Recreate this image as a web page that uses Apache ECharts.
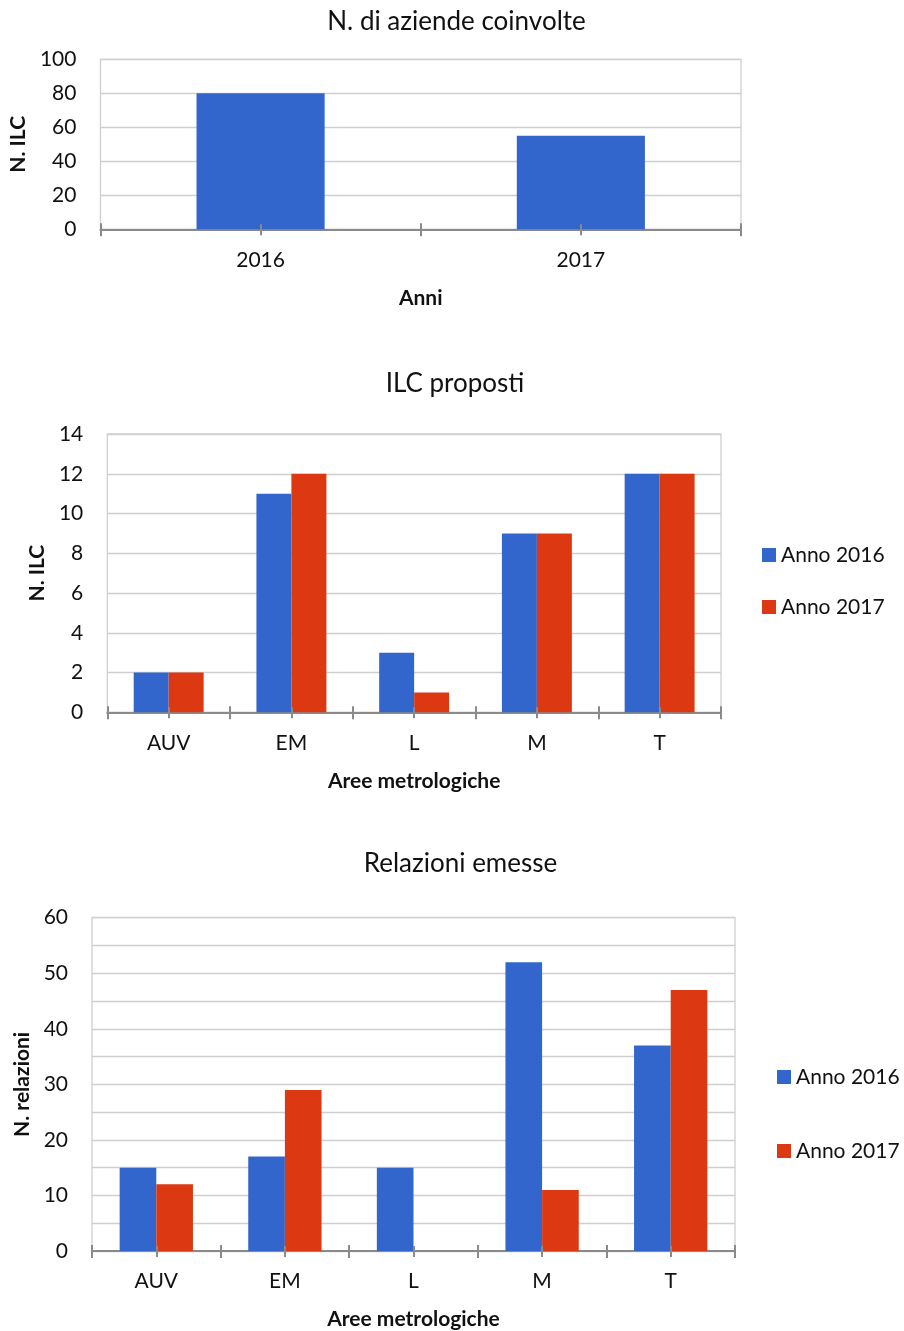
<!DOCTYPE html>
<html>
<head>
<meta charset="utf-8">
<script src="https://cdn.jsdelivr.net/npm/echarts@6/dist/echarts.min.js"></script>
<style>
html,body{margin:0;padding:0;background:#fff;}
#chart{width:904px;height:1331px;}
</style>
</head>
<body>
<div id="chart"></div>
<script>
// ---- data ----
const anni = ['2016', '2017'];
const aziendeCoinvolte = [80, 55];

const aree = ['AUV', 'EM', 'L', 'M', 'T'];
const ilcAnno2016 = [2, 11, 3, 9, 12];
const ilcAnno2017 = [2, 12, 1, 9, 12];

const relazioniAnno2016 = [15, 17, 15, 52, 37];
const relazioniAnno2017 = [12, 29, 0, 11, 47];

const seriesNames = ['Anno 2016', 'Anno 2017'];
const titles = ['N. di aziende coinvolte', 'ILC proposti', 'Relazioni emesse'];
const yNames = ['N. ILC', 'N. ILC', 'N. relazioni'];
const xNames = ['Anni', 'Aree metrologiche', 'Aree metrologiche'];

// ---- style ----
const FONT = 'Lato';
const BLUE = '#3366CC';
const RED = '#DC3912';
const GRIDC = '#cfcfcf';
const AXISC = '#8a8a8a';
const TXT = '#111';

const grids = [
  {left: 100, width: 641, top: 59.3, height: 170, show: true, borderColor: GRIDC, borderWidth: 1.3},
  {left: 107.3, width: 613.7, top: 434, height: 278.3, show: true, borderColor: GRIDC, borderWidth: 1.3},
  {left: 92, width: 643, top: 917.7, height: 333.3, show: true, borderColor: GRIDC, borderWidth: 1.3}
];

const cats = [anni, aree, aree];
const yNameGap = [71, 58, 58];
const xAxes = [];
const mainX = [];
cats.forEach((c, gi) => {
  mainX.push(xAxes.length);
  xAxes.push({
    type: 'category', gridIndex: gi, data: c, position: 'bottom',
    axisLine: {show: true, lineStyle: {color: AXISC, width: 2}},
    axisTick: {show: true, length: 7, lineStyle: {color: AXISC, width: 2}},
    axisLabel: {margin: 20, color: TXT, fontFamily: FONT, fontSize: 21},
    name: xNames[gi], nameLocation: 'middle', nameGap: 58,
    nameTextStyle: {color: TXT, fontFamily: FONT, fontSize: 21, fontWeight: 'bold'},
    splitLine: {show: false}
  });
  // inside part of boundary ticks
  xAxes.push({
    type: 'category', gridIndex: gi, data: c, position: 'bottom', z: 3,
    axisLine: {show: false}, axisLabel: {show: false}, splitLine: {show: false},
    axisTick: {show: true, inside: true, length: 6, lineStyle: {color: AXISC, width: 2}}
  });
  // center ticks outside
  xAxes.push({
    type: 'category', gridIndex: gi, data: c, position: 'bottom', z: 3,
    axisLine: {show: false}, axisLabel: {show: false}, splitLine: {show: false},
    axisTick: {show: true, alignWithLabel: true, length: 6, lineStyle: {color: AXISC, width: 2}}
  });
  // center ticks inside
  xAxes.push({
    type: 'category', gridIndex: gi, data: c, position: 'bottom', z: 3,
    axisLine: {show: false}, axisLabel: {show: false}, splitLine: {show: false},
    axisTick: {show: true, alignWithLabel: true, inside: true, length: 5, lineStyle: {color: AXISC, width: 2}}
  });
});

const yCfg = [
  {max: 100, interval: 20},
  {max: 14, interval: 2},
  {max: 60, interval: 10}
];
const yAxes = yCfg.map((c, gi) => ({
  type: 'value', gridIndex: gi, min: 0, max: c.max, interval: c.interval,
  axisLine: {show: false}, axisTick: {show: false},
  axisLabel: {margin: 24, color: TXT, fontFamily: FONT, fontSize: 21},
  splitLine: {show: true, lineStyle: {color: GRIDC, width: 1.3}},
  minorTick: {show: false, splitNumber: 2},
  minorSplitLine: {show: gi === 2, lineStyle: {color: GRIDC, width: 1.3}},
  name: yNames[gi], nameLocation: 'middle', nameGap: yNameGap[gi], nameRotate: 90,
  nameTextStyle: {color: TXT, fontFamily: FONT, fontSize: 21, fontWeight: 'bold'}
}));

const series = [
  {type: 'bar', name: 'N. di aziende', xAxisIndex: mainX[0], yAxisIndex: 0, data: aziendeCoinvolte,
   barCategoryGap: '60%', itemStyle: {color: BLUE}},
  {type: 'bar', name: seriesNames[0], xAxisIndex: mainX[1], yAxisIndex: 1, data: ilcAnno2016,
   barCategoryGap: '43%', barGap: '0%', itemStyle: {color: BLUE}},
  {type: 'bar', name: seriesNames[1], xAxisIndex: mainX[1], yAxisIndex: 1, data: ilcAnno2017,
   barCategoryGap: '43%', barGap: '0%', itemStyle: {color: RED}},
  {type: 'bar', name: seriesNames[0], xAxisIndex: mainX[2], yAxisIndex: 2, data: relazioniAnno2016,
   barCategoryGap: '43%', barGap: '0%', itemStyle: {color: BLUE}},
  {type: 'bar', name: seriesNames[1], xAxisIndex: mainX[2], yAxisIndex: 2, data: relazioniAnno2017,
   barCategoryGap: '43%', barGap: '0%', itemStyle: {color: RED}}
];

const legendBase = {
  orient: 'vertical', icon: 'rect', itemWidth: 14, itemHeight: 14,
  data: seriesNames, selectedMode: false, padding: 0,
  textStyle: {color: TXT, fontFamily: FONT, fontSize: 21, lineHeight: 22}
};

const titlePos = [[456.5, 22], [455, 384], [460.5, 864]];
const graphic = titles.map((t, i) => ({
  type: 'text', x: titlePos[i][0], y: titlePos[i][1],
  style: {text: t, fill: TXT, font: '26px ' + FONT, textAlign: 'center', textVerticalAlign: 'middle'}
}));

const chart = echarts.init(document.getElementById('chart'), null, {renderer: 'canvas'});
chart.setOption({
  animation: false,
  backgroundColor: '#fff',
  graphic: graphic,
  grid: grids,
  xAxis: xAxes,
  yAxis: yAxes,
  legend: [
    Object.assign({}, legendBase, {left: 762, top: 544, itemGap: 30}),
    Object.assign({}, legendBase, {left: 777, top: 1066, itemGap: 52})
  ],
  series: series
});
</script>
</body>
</html>
